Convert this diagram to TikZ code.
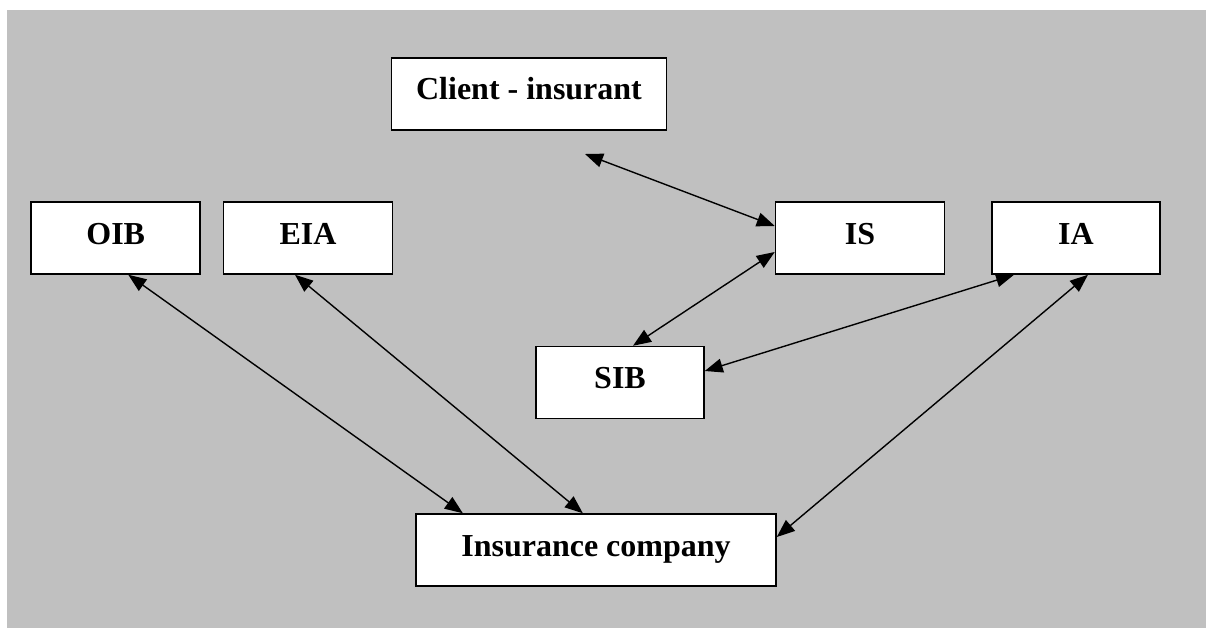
\documentclass[tikz,border=0pt]{standalone}
\usepackage{fontspec}
\setmainfont{Liberation Serif}
\usepackage{tikz}
\usetikzlibrary{arrows.meta}
\definecolor{panelgray}{RGB}{192,192,192}
\tikzset{
  boxnode/.style = {draw,fill=white,line width=1.5pt,minimum height=72pt,
                    text height=21pt,text depth=9pt,inner sep=0pt,
                    font=\fontsize{32}{38}\selectfont\bfseries},
  linkarr/.style = {{Triangle[length=18pt,width=14pt]}-{Triangle[length=18pt,width=14pt]},line width=1.4pt}
}

\begin{document}
\begin{tikzpicture}[x=1pt,y=-1pt]
  \fill[white] (0,0) rectangle (1206,628);
  \useasboundingbox (0,0) rectangle (1206,628);
  \fill[panelgray] (7,10) rectangle (1206,628);
  \node[boxnode,minimum width=275pt] (client) at (529,94)  {Client - insurant};
  \node[boxnode,minimum width=169pt] (oib)    at (115.7,238) {OIB};
  \node[boxnode,minimum width=169pt] (eia)    at (308,238) {EIA};
  \node[boxnode,minimum width=169pt] (is)     at (860,238) {IS};
  \node[boxnode,minimum width=168pt] (ia)     at (1076,238) {IA};
  \node[boxnode,minimum width=168pt] (sib)    at (620,382.5) {SIB};
  \node[boxnode,minimum width=360pt] (ins)    at (596,550) {Insurance company};
  \coordinate (clend) at (585,154);
  % links
  \draw[linkarr] (clend) -- ([yshift=12pt]is.west);
  \draw[linkarr] ([yshift=-14pt]is.west) -- ([xshift=13pt]sib.north);
  \draw[linkarr] ([xshift=-62pt]ia.south) -- ([yshift=11.5pt]sib.east);
  \draw[linkarr] ([xshift=12pt]ia.south) -- ([yshift=13pt]ins.east);
  \draw[linkarr] ([xshift=12.6pt]oib.south) -- ([xshift=47.6pt]ins.north west);
  \draw[linkarr] ([xshift=-13pt]eia.south) -- ([xshift=167.6pt]ins.north west);
\end{tikzpicture}
\end{document}
